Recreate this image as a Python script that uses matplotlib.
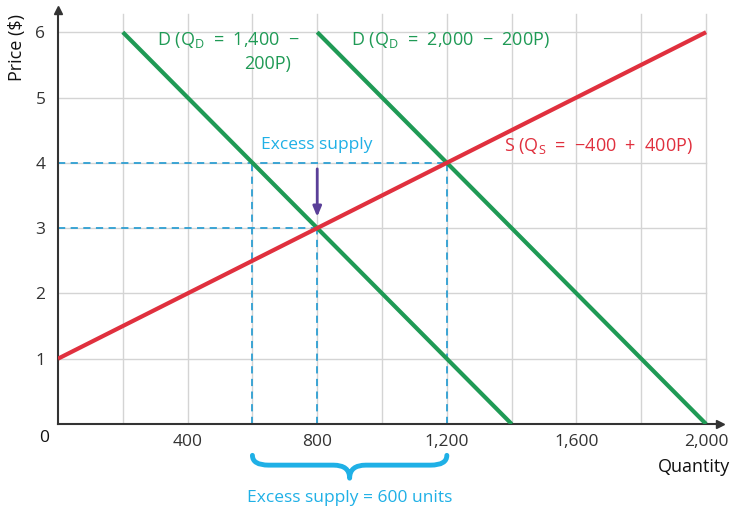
import matplotlib
matplotlib.use("Agg")
import matplotlib.pyplot as plt
import numpy as np
from matplotlib.path import Path
from matplotlib.patches import PathPatch

plt.rcParams['font.family'] = ['Open Sans', 'DejaVu Sans']
plt.rcParams['mathtext.fontset'] = 'custom'
plt.rcParams['mathtext.rm'] = 'Open Sans'

# Data
prices = [0, 1, 2, 3, 4, 5, 6]
d1_price = [6, 0]
d1_qty = [1400 - 200 * p for p in d1_price]          # 200 .. 1400
d2_price = [6, 0]
d2_qty = [2000 - 200 * p for p in d2_price]          # 800 .. 2000
s_price = [1, 6]
s_qty = [-400 + 400 * p for p in s_price]            # 0 .. 2000
high_price = 4
low_price = 3
qd_high = 600
qs_high = 1200
q_eq = 800
x_ticks = [400, 800, 1200, 1600, 2000]
x_ticklabels = ["400", "800", "1,200", "1,600", "2,000"]
y_ticks = [1, 2, 3, 4, 5, 6]

GREEN = "#1f9a55"
RED = "#e0303e"
BLUE = "#2e9fd2"
TBLUE = "#1fb0e6"
PURPLE = "#5a3f98"
GRID = "#d4d4d4"
DARK = "#333333"

fig = plt.figure(figsize=(7.32, 5.11), dpi=100)
ax = fig.add_axes([58 / 732, 87 / 511, 662 / 732, 414 / 511])
ax.set_xlim(0, 2043)
ax.set_ylim(0, 6.34)

# grid
for x in range(200, 2001, 200):
    ax.plot([x, x], [0, 6.28], color=GRID, lw=1, zorder=1)
for y in y_ticks:
    ax.plot([0, 2000], [y, y], color=GRID, lw=1, zorder=1)

# dashed guides
dkw = dict(color=BLUE, lw=1.3, ls=(0, (4, 3)), zorder=2)
ax.plot([0, qs_high], [high_price, high_price], **dkw)
ax.plot([0, q_eq], [low_price, low_price], **dkw)
ax.plot([qd_high, qd_high], [0, high_price], **dkw)
ax.plot([q_eq, q_eq], [0, low_price], **dkw)
ax.plot([qs_high, qs_high], [0, high_price], **dkw)

# curves
ax.plot(d1_qty, d1_price, color=GREEN, lw=3, zorder=3, solid_capstyle='butt')
ax.plot(d2_qty, d2_price, color=GREEN, lw=3, zorder=3, solid_capstyle='butt')
ax.plot(s_qty, s_price, color=RED, lw=3, zorder=4, solid_capstyle='butt')

# arrow
ax.annotate("", xy=(800, 3.13), xytext=(800, 3.95),
            arrowprops=dict(arrowstyle="-|>,head_length=0.6,head_width=0.25",
                            color=PURPLE, lw=2), zorder=5)

# spines
for s in ["top", "right"]:
    ax.spines[s].set_visible(False)
for s in ["left", "bottom"]:
    ax.spines[s].set_color(DARK)
    ax.spines[s].set_linewidth(1.5)
ax.plot(1, 0, ">", transform=ax.transAxes, color=DARK, ms=6, clip_on=False)
ax.plot(0, 1, "^", transform=ax.transAxes, color=DARK, ms=6, clip_on=False)

ax.set_xticks(x_ticks)
ax.set_xticklabels(x_ticklabels)
ax.set_yticks(y_ticks)
ax.tick_params(length=0, labelsize=12.5, labelcolor=DARK, pad=7)
ax.tick_params(axis='y', pad=9)
ax.text(-14 / 0.324, -0.21, "0", ha="center", va="center", fontsize=12.5,
        color="#111111", clip_on=False)

ax.set_ylabel("Price ($)", fontsize=13, color="#111111")
ax.yaxis.set_label_coords(-0.048, 0.91)
ax.text(2073, -0.66, "Quantity", ha="right", va="center", fontsize=13,
        color="#111111", clip_on=False)

# labels
tk = dict(fontsize=13, va="center")
ax.text(305, 5.88, "D (Q$_\\mathrm{D}$  =  1,400  \u2212", color=GREEN, ha="left", **tk)
ax.text(720, 5.52, "200P)", color=GREEN, ha="right", **tk)
ax.text(905, 5.88, "D (Q$_\\mathrm{D}$  =  2,000  \u2212  200P)", color=GREEN,
        ha="left", **tk)
ax.text(800, 4.27, "Excess supply", color=TBLUE, ha="center", fontsize=12.5,
        va="center")
ax.text(1375, 4.25, "S (Q$_\\mathrm{S}$  =  \u2212400  +  400P)", color=RED,
        ha="left", **tk)

# brace
x0, x1, xm = qd_high, qs_high, (qd_high + qs_high) / 2
yt, ym, yb = -0.48, -0.63, -0.83
r = 25
verts = [(x0, yt), (x0, ym), (x0 + r * 2, ym), (xm - r * 2, ym), (xm, ym), (xm, yb),
         (xm, ym), (xm + r * 2, ym), (x1 - r * 2, ym), (x1, ym), (x1, yt)]
codes = [Path.MOVETO, Path.CURVE3, Path.CURVE3, Path.LINETO, Path.CURVE3, Path.CURVE3,
         Path.CURVE3, Path.CURVE3, Path.LINETO, Path.CURVE3, Path.CURVE3]
ax.add_patch(PathPatch(Path(verts, codes), fill=False, edgecolor=TBLUE, lw=3.5,
                       clip_on=False, capstyle='round', joinstyle='round'))
ax.text(xm, -1.13, "Excess supply = 600 units", color=TBLUE, fontsize=12.5,
        ha="center", va="center", clip_on=False)

fig.savefig("out.png", dpi=100)
